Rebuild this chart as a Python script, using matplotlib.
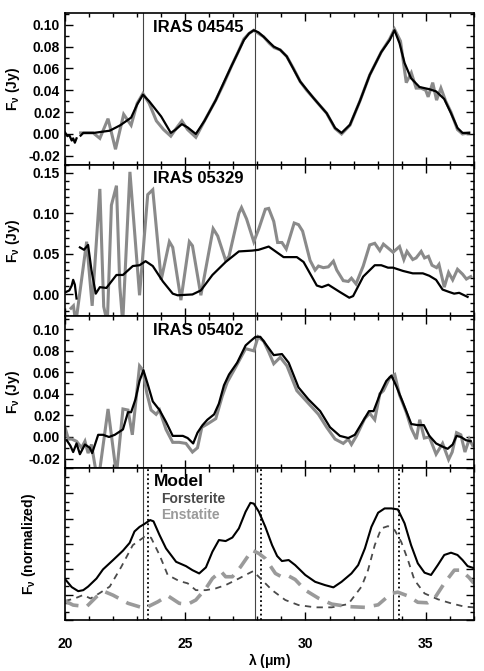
import numpy as np
import matplotlib
matplotlib.use('Agg')
import matplotlib.pyplot as plt
from matplotlib.ticker import MultipleLocator

plt.rcParams['font.family'] = ['Liberation Sans', 'DejaVu Sans']
plt.rcParams['font.weight'] = 'bold'
plt.rcParams['mathtext.default'] = 'regular'

nan = np.nan

# feature positions (microns)
solid_lines = [23.24, 27.88, 33.65]
dotted_lines = [23.46, 28.14, 33.88]

# IRAS 04545
p1_fit_wave = [20.0, 20.1, 20.18, 20.28, 20.34, 20.41, 20.48, nan, 20.65, 20.76, 21.2, 21.86, 22.3, 22.75,
               23.0, 23.24, 23.5, 24.0, 24.4, 24.6, 24.86, 25.1, 25.44, 25.8, 26.27, 26.6, 26.94, 27.2,
               27.44, 27.65, 27.85, 28.05, 28.26, 28.68, 28.95, 29.22, 29.78, 30.33, 30.88, 31.23, 31.5,
               31.85, 32.26, 32.67, 33.15, 33.5, 33.7, 33.91, 34.12, 34.39, 34.74, 35.15, 35.43, 35.77,
               36.05, 36.32, 36.53, 36.8]
p1_fit_flux = [0.0015, -0.002, -0.001, -0.006, -0.004, -0.008, -0.004, nan, -0.0015, 0.001, 0.001, 0.003,
               0.008, 0.015, 0.027, 0.036, 0.030, 0.016, 0.001, 0.004, 0.009, 0.006, 0.000, 0.012, 0.031,
               0.047, 0.063, 0.075, 0.086, 0.092, 0.095, 0.093, 0.089, 0.080, 0.077, 0.071, 0.048, 0.033,
               0.019, 0.0055, 0.001, 0.0085, 0.030, 0.054, 0.075, 0.086, 0.095, 0.083, 0.065, 0.051, 0.043,
               0.041, 0.039, 0.032, 0.019, 0.0055, 0.001, 0.001]
p1_obs_wave = [20.65, 20.9, 21.17, 21.45, 21.79, 22.1, 22.44, 22.75, 23.0, 23.24, 23.5, 23.8, 24.1, 24.4,
               24.62, 24.86, 25.1, 25.44, 25.8, 26.27, 26.6, 26.94, 27.2, 27.44, 27.65, 27.85, 28.05, 28.26,
               28.5, 28.7, 28.95, 29.22, 29.5, 29.78, 30.05, 30.33, 30.6, 30.88, 31.23, 31.5, 31.85, 32.26,
               32.67, 33.15, 33.5, 33.7, 33.95, 34.19, 34.4, 34.6, 34.8, 35.0, 35.1, 35.29, 35.45, 35.63,
               35.83, 36.05, 36.32, 36.53, 36.8]
p1_obs_flux = [0.001, 0.001, 0.001, -0.004, 0.014, -0.014, 0.018, 0.008, 0.028, 0.037, 0.028, 0.012, 0.004,
               -0.002, 0.005, 0.012, 0.004, -0.003, 0.012, 0.031, 0.046, 0.063, 0.075, 0.087, 0.092, 0.095,
               0.092, 0.089, 0.083, 0.079, 0.077, 0.071, 0.060, 0.048, 0.040, 0.033, 0.026, 0.019, 0.005,
               0.000, 0.008, 0.030, 0.054, 0.075, 0.087, 0.096, 0.085, 0.047, 0.056, 0.042, 0.042, 0.040,
               0.034, 0.047, 0.031, 0.042, 0.030, 0.020, 0.004, 0.000, 0.001]

# IRAS 05329
p2_fit_wave = [20.04, 20.18, 20.28, 20.34, 20.41, 20.48, nan, 20.62, 20.79, 20.96, 21.1, 21.28, 21.45, 21.72,
               22.14, 22.41, 22.82, 23.1, 23.35, 23.65, 24.07, 24.48, 24.68, 25.3, 25.65, 26.13, 26.68,
               27.23, 27.78, 28.05, 28.47, 29.09, 29.64, 29.92, 30.47, 30.68, 30.95, 31.43, 31.82, 31.98,
               32.4, 32.88, 33.15, 33.43, 33.64, 34.05, 34.46, 34.88, 35.15, 35.43, 35.7, 35.98, 36.18,
               36.39, 36.74]
p2_fit_flux = [0.003, 0.005, 0.011, 0.018, 0.012, -0.005, nan, 0.058, 0.055, 0.061, 0.030, 0.001, 0.009,
               0.008, 0.024, 0.024, 0.035, 0.036, 0.041, 0.035, 0.016, 0.001, -0.001, 0.000, 0.005, 0.024,
               0.040, 0.053, 0.054, 0.055, 0.059, 0.046, 0.046, 0.040, 0.011, 0.009, 0.012, 0.003, -0.004,
               -0.002, 0.022, 0.036, 0.036, 0.033, 0.033, 0.029, 0.026, 0.026, 0.023, 0.018, 0.006, 0.003,
               0.001, 0.002, -0.003]
p2_obs_wave = [20.25, 20.35, 20.45, 20.9, 21.13, 21.45, 21.61, 21.76, 21.93, 22.14, 22.28, 22.4, 22.7, 23.1,
               23.44, 23.65, 24.0, 24.34, 24.48, 24.82, 25.17, 25.3, 25.65, 26.16, 26.35, 26.68, 26.82,
               27.23, 27.34, 27.55, 27.85, 28.06, 28.33, 28.47, 28.68, 28.84, 29.02, 29.2, 29.53, 29.71,
               29.88, 30.19, 30.4, 30.54, 30.74, 30.95, 31.16, 31.3, 31.57, 31.78, 31.91, 32.1, 32.4, 32.67,
               32.88, 33.09, 33.24, 33.64, 33.91, 34.09, 34.22, 34.46, 34.6, 34.81, 34.95, 35.11, 35.26,
               35.45, 35.55, 35.77, 35.95, 36.12, 36.32, 36.53, 36.69, 36.87]
p2_obs_flux = [-0.017, -0.014, -0.035, 0.065, -0.014, 0.130, -0.015, -0.035, 0.110, 0.134, 0.010, -0.035,
               0.151, -0.001, 0.123, 0.129, 0.018, 0.065, 0.058, -0.007, 0.065, 0.060, -0.001, 0.081,
               0.072, 0.042, 0.047, 0.100, 0.107, 0.093, 0.065, 0.081, 0.105, 0.106, 0.090, 0.064, 0.064,
               0.056, 0.088, 0.086, 0.078, 0.042, 0.030, 0.035, 0.033, 0.034, 0.041, 0.030, 0.017, 0.016,
               0.020, 0.013, 0.035, 0.061, 0.063, 0.054, 0.062, 0.052, 0.059, 0.043, 0.053, 0.043, 0.045,
               0.053, 0.045, 0.047, 0.036, 0.033, 0.037, 0.009, 0.027, 0.018, 0.031, 0.025, 0.019, 0.022]

# IRAS 05402
p3_fit_wave = [20.07, 20.22, 20.34, 20.48, 20.62, 20.83, 21.03, 21.13, 21.38, 21.58, 21.83, 22.07, 22.41,
               22.62, 22.75, 22.93, 23.1, 23.26, 23.44, 23.65, 23.93, 24.2, 24.48, 24.9, 25.1, 25.33, 25.51,
               25.72, 25.92, 26.2, 26.4, 26.61, 26.82, 27.16, 27.51, 27.71, 27.92, 28.12, 28.26, 28.68,
               29.02, 29.3, 29.71, 30.12, 30.61, 31.02, 31.43, 31.78, 32.05, 32.4, 32.64, 32.83, 33.12,
               33.36, 33.57, 33.78, 34.05, 34.4, 34.67, 34.92, 35.15, 35.43, 35.7, 35.91, 36.12, 36.28,
               36.46, 36.67, 36.87]
p3_fit_flux = [-0.003, -0.008, -0.014, -0.006, -0.016, -0.007, -0.010, -0.015, 0.002, 0.002, 0.000, 0.002,
               0.007, 0.023, 0.023, 0.035, 0.052, 0.062, 0.049, 0.033, 0.025, 0.014, 0.001, 0.001, -0.001,
               -0.006, 0.004, 0.011, 0.016, 0.021, 0.031, 0.048, 0.058, 0.069, 0.085, 0.089, 0.093, 0.093,
               0.089, 0.076, 0.077, 0.069, 0.046, 0.035, 0.024, 0.009, 0.001, -0.001, 0.002, 0.015, 0.024,
               0.024, 0.041, 0.052, 0.057, 0.047, 0.032, 0.012, 0.011, 0.011, 0.001, -0.006, -0.009,
               -0.011, -0.007, 0.001, 0.000, -0.003, -0.004]
p3_obs_wave = [20.0, 20.14, 20.28, 20.48, 20.69, 20.83, 20.96, 21.1, 21.31, 21.45, 21.79, 22.14, 22.41,
               22.62, 22.8, 23.1, 23.24, 23.4, 23.58, 23.79, 23.93, 24.2, 24.48, 24.75, 25.03, 25.3, 25.51,
               25.69, 25.92, 26.27, 26.54, 26.75, 27.1, 27.51, 27.85, 28.03, 28.26, 28.47, 28.68, 28.95,
               29.23, 29.64, 30.05, 30.54, 30.88, 31.23, 31.57, 31.78, 31.91, 32.12, 32.46, 32.67, 32.88,
               33.09, 33.24, 33.5, 33.71, 33.91, 34.19, 34.4, 34.61, 34.75, 34.94, 35.15, 35.43, 35.7,
               35.95, 36.1, 36.28, 36.46, 36.63, 36.81, 36.95]
p3_obs_flux = [0.009, -0.002, -0.002, -0.004, -0.010, -0.004, -0.015, -0.007, -0.035, -0.030, 0.026, -0.035,
               0.026, 0.025, 0.002, 0.066, 0.062, 0.041, 0.025, 0.021, 0.025, 0.007, -0.005, -0.005,
               -0.006, -0.014, -0.010, 0.009, 0.012, 0.017, 0.038, 0.051, 0.065, 0.082, 0.080, 0.093, 0.089,
               0.079, 0.068, 0.074, 0.066, 0.043, 0.033, 0.021, 0.009, -0.002, -0.006, -0.002, -0.007,
               0.001, 0.017, 0.022, 0.016, 0.040, 0.043, 0.055, 0.058, 0.039, 0.023, 0.008, -0.002, 0.016,
               -0.001, 0.000, -0.016, -0.006, -0.021, -0.014, 0.004, 0.002, -0.014, -0.002, -0.008]

# Model (normalized)
model_wave = [20.0, 20.28, 20.55, 20.76, 20.96, 21.31, 21.58, 22.0, 22.41, 22.69, 22.89, 23.1, 23.31, 23.54,
              23.68, 23.93, 24.2, 24.62, 25.03, 25.3, 25.58, 25.86, 26.13, 26.4, 26.68, 26.96, 27.23, 27.51,
              27.71, 27.85, 28.06, 28.33, 28.61, 28.82, 29.02, 29.3, 29.57, 29.99, 30.4, 30.81, 31.16, 31.5,
              31.91, 32.19, 32.47, 32.74, 33.02, 33.29, 33.57, 33.84, 34.12, 34.39, 34.67, 34.95, 35.22,
              35.5, 35.77, 36.05, 36.32, 36.53, 36.74, 37.0]
model_flux = [1.62, 1.30, 1.14, 1.18, 1.32, 1.64, 2.00, 2.37, 2.74, 3.05, 3.50, 3.68, 3.80, 3.95, 3.90, 3.36,
              2.83, 2.30, 2.13, 1.97, 1.84, 2.08, 2.70, 3.16, 3.12, 3.26, 3.62, 4.28, 4.63, 4.60, 4.28, 3.68,
              2.96, 2.53, 2.33, 2.37, 2.17, 1.78, 1.51, 1.38, 1.29, 1.51, 1.84, 2.17, 2.83, 3.68, 4.24, 4.41,
              4.41, 4.37, 3.82, 2.96, 2.24, 1.87, 1.78, 2.17, 2.57, 2.66, 2.57, 2.37, 2.13, 2.05]
fo_wave = [20.0, 20.4, 20.76, 21.06, 21.42, 21.86, 22.34, 22.82, 23.1, 23.31, 23.58, 23.93, 24.27, 24.75,
           25.1, 25.44, 25.86, 26.27, 26.68, 27.23, 27.51, 27.82, 28.13, 28.61, 29.16, 29.71, 30.4, 31.09,
           31.78, 32.33, 32.6, 32.88, 33.15, 33.43, 33.71, 33.98, 34.26, 34.53, 34.95, 35.5, 36.05, 36.6, 37.0]
fo_flux = [0.75, 0.85, 0.99, 0.85, 1.05, 1.32, 2.10, 2.96, 3.15, 3.29, 3.25, 2.57, 1.78, 1.54, 1.45, 1.18,
           1.18, 1.25, 1.38, 1.64, 1.78, 1.93, 1.64, 1.18, 0.79, 0.59, 0.50, 0.50, 0.63, 1.32, 1.97, 2.96,
           3.62, 3.71, 3.55, 3.09, 2.37, 1.58, 1.05, 0.82, 0.66, 0.53, 0.50]
en_wave = [20.0, 20.34, 20.9, 21.31, 21.65, 22.0, 22.62, 23.31, 23.86, 24.27, 24.75, 25.1, 25.44, 25.86, 26.13,
           26.48, 26.68, 26.96, 27.3, 27.78, 28.06, 28.33, 28.75, 29.02, 29.3, 29.57, 29.99, 30.54, 31.09,
           31.78, 32.47, 33.02, 33.57, 33.84, 34.26, 34.67, 35.08, 35.36, 35.77, 36.19, 36.46, 36.8, 37.0]
en_flux = [0.75, 0.59, 0.53, 0.92, 1.12, 0.98, 0.66, 0.46, 0.72, 0.96, 0.66, 0.62, 0.79, 1.25, 1.64, 1.93,
           1.71, 1.71, 2.10, 2.76, 2.63, 2.43, 1.84, 1.70, 1.74, 1.60, 1.18, 0.86, 0.63, 0.53, 0.50, 0.60,
           1.05, 1.10, 0.95, 0.70, 0.68, 0.85, 1.45, 1.97, 1.97, 1.68, 1.45]

obs_color = '#8a8a8a'
fo_color = '#4a4a4a'
en_color = '#9a9a9a'

fig, axes = plt.subplots(4, 1, figsize=(4.85, 6.71), dpi=100, sharex=True)
fig.subplots_adjust(left=0.134, right=0.977, top=0.981, bottom=0.076, hspace=0)

panels = [
    ('IRAS 04545', p1_obs_wave, p1_obs_flux, p1_fit_wave, p1_fit_flux, (-0.028, 0.111), 0.02, 0.01),
    ('IRAS 05329', p2_obs_wave, p2_obs_flux, p2_fit_wave, p2_fit_flux, (-0.027, 0.160), 0.05, 0.01),
    ('IRAS 05402', p3_obs_wave, p3_obs_flux, p3_fit_wave, p3_fit_flux, (-0.029, 0.112), 0.02, 0.01),
]

for ax, (name, ow, of, fw, ff, ylim, major, minor) in zip(axes[:3], panels):
    ax.plot(ow, of, color=obs_color, lw=2.2, zorder=2, solid_joinstyle='miter')
    ax.plot(fw, ff, color='black', lw=1.6, zorder=3)
    ax.set_ylim(*ylim)
    ax.yaxis.set_major_locator(MultipleLocator(major))
    ax.yaxis.set_minor_locator(MultipleLocator(minor))
    ax.yaxis.set_major_formatter(plt.FormatStrFormatter('%.2f'))
    ax.text(0.215, 0.905, name, transform=ax.transAxes, fontsize=12, fontweight='bold', va='center')
    ax.set_ylabel(r'F$_\nu$ (Jy)', fontsize=10, fontweight='bold')
    ax.yaxis.set_label_coords(-0.105, 0.5)

ax4 = axes[3]
ax4.plot(model_wave, model_flux, color='black', lw=1.5, zorder=3)
ax4.plot(fo_wave, fo_flux, color=fo_color, lw=1.3, dashes=(3.5, 3), zorder=2)
ax4.plot(en_wave, en_flux, color=en_color, lw=2.6, dashes=(4, 2.5), zorder=2)
ax4.set_ylim(0, 6)
ax4.yaxis.set_major_locator(MultipleLocator(1))
ax4.yaxis.set_minor_locator(MultipleLocator(1 / 3))
ax4.set_yticklabels([])
ax4.set_ylabel(r'F$_\nu$ (normalized)', fontsize=10, fontweight='bold')
ax4.yaxis.set_label_coords(-0.066, 0.5)
for xv in dotted_lines:
    ax4.axvline(xv, color='black', lw=1.3, ls=(0, (1, 1.5)), zorder=1)
ax4.text(0.218, 0.91, 'Model', transform=ax4.transAxes, fontsize=12.5, fontweight='bold', va='center')
ax4.text(0.236, 0.796, 'Forsterite', transform=ax4.transAxes, fontsize=10, fontweight='bold',
         color=fo_color, va='center')
ax4.text(0.236, 0.691, 'Enstatite', transform=ax4.transAxes, fontsize=10, fontweight='bold',
         color=en_color, va='center')

for ax in axes:
    for xv in solid_lines:
        ax.axvline(xv, color='#444444', lw=0.8, zorder=1)
    ax.set_xlim(20, 37)
    ax.xaxis.set_major_locator(MultipleLocator(5))
    ax.xaxis.set_minor_locator(MultipleLocator(1))
    ax.tick_params(which='both', direction='in', top=True, right=True, width=1.0, labelsize=10)
    ax.tick_params(which='major', length=6)
    ax.tick_params(which='minor', length=3)
    for sp in ax.spines.values():
        sp.set_linewidth(1.2)
    for lab in ax.get_yticklabels() + ax.get_xticklabels():
        lab.set_fontweight('bold')

ax4.tick_params(axis='x', pad=12)
ax4.set_xlabel(r'$\lambda$ ($\mu$m)', fontsize=10, fontweight='bold')
ax4.xaxis.set_label_coords(0.5, -0.205)

fig.savefig('out.png', dpi=100)
